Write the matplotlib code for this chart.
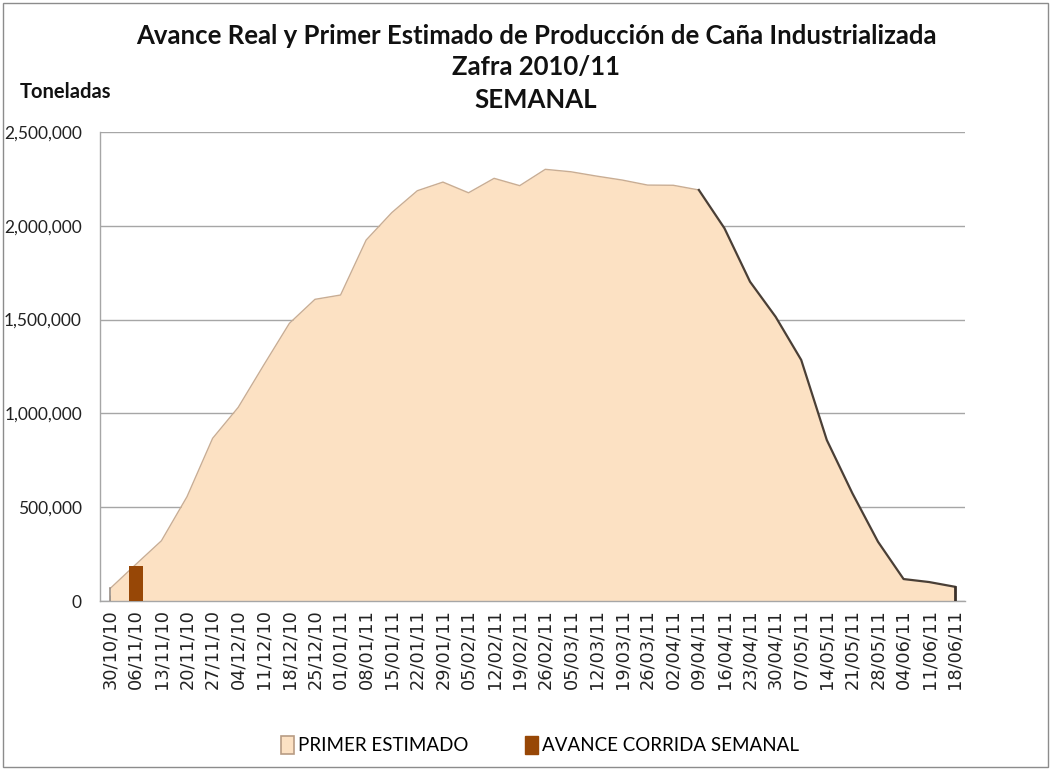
import numpy as np
import matplotlib
matplotlib.use("Agg")
import matplotlib.pyplot as plt
from matplotlib.patches import Rectangle, Patch
from matplotlib.ticker import FuncFormatter

fechas = ["30/10/10", "06/11/10", "13/11/10", "20/11/10", "27/11/10", "04/12/10",
          "11/12/10", "18/12/10", "25/12/10", "01/01/11", "08/01/11", "15/01/11",
          "22/01/11", "29/01/11", "05/02/11", "12/02/11", "19/02/11", "26/02/11",
          "05/03/11", "12/03/11", "19/03/11", "26/03/11", "02/04/11", "09/04/11",
          "16/04/11", "23/04/11", "30/04/11", "07/05/11", "14/05/11", "21/05/11",
          "28/05/11", "04/06/11", "11/06/11", "18/06/11"]

primer_estimado = [67000, 195000, 321000, 556000, 867000, 1032000,
                   1258000, 1480000, 1608000, 1631000, 1924000, 2070000,
                   2187000, 2233000, 2176000, 2253000, 2214000, 2301000,
                   2288000, 2265000, 2244000, 2217000, 2216000, 2191000,
                   1987000, 1702000, 1515000, 1285000, 858000, 574000,
                   316000, 117000, 101000, 76000]

avance_semanal = [0, 185000] + [0] * 32

y_ticks = [0, 500000, 1000000, 1500000, 2000000, 2500000]

fill_color = "#FCE1C3"
bar_color = "#974706"

fig = plt.figure(figsize=(10.52, 7.71), dpi=100)
ax = fig.add_axes([100 / 1052, 170 / 771, 865 / 1052, 469 / 771])

x = np.arange(len(fechas))
y = np.array(primer_estimado)

ax.fill_between(x, 0, y, color=fill_color, zorder=2, linewidth=0)
# light edge on the rising part, dark shadow edge on the falling part
ax.plot(x[:24], y[:24], color="#C9AD93", lw=1.0, zorder=3)
ax.plot(x[23:], y[23:], color="#4A3F36", lw=1.6, zorder=3)
ax.plot([x[0], x[0]], [0, y[0]], color="#9A8F86", lw=1.2, zorder=3)
ax.plot([x[-1], x[-1]], [0, y[-1]], color="#3A302A", lw=2.0, zorder=3)

ax.bar(x, avance_semanal, width=0.55, color=bar_color, zorder=4)

ax.set_xlim(-0.4, 33.4)
ax.set_ylim(0, 2500000)
ax.set_yticks(y_ticks)
ax.yaxis.set_major_formatter(FuncFormatter(lambda v, p: f"{int(v):,}"))
ax.grid(axis="y", color="#A6A6A6", lw=1.0, zorder=1)
ax.set_axisbelow(True)

ax.set_xticks(x)
ax.set_xticklabels(fechas, rotation=90, fontsize=12.8, family="DejaVu Sans", color="#222222")
ax.set_xticks(np.arange(0, 33.01, 0.5), minor=True)
ax.tick_params(axis="x", which="both", direction="in", length=4, color="#A6A6A6", pad=6)
ax.tick_params(axis="y", length=0, pad=13, labelsize=12.5, labelcolor="#222222")
for lbl in ax.get_yticklabels():
    lbl.set_family("Lato")

for s in ["top", "right"]:
    ax.spines[s].set_visible(False)
for s in ["left", "bottom"]:
    ax.spines[s].set_color("#A6A6A6")
    ax.spines[s].set_linewidth(1.0)

# Titles
fs_title = 18.5
fig.text(536 / 1052, 1 - 36 / 771, "Avance Real y Primer Estimado de Producción de Caña Industrializada",
         ha="center", va="center", fontsize=fs_title, fontweight="bold", family="Lato", color="#111111")
fig.text(536 / 1052, 1 - 67 / 771, "Zafra 2010/11", ha="center", va="center",
         fontsize=fs_title, fontweight="bold", family="Lato", color="#111111")
fig.text(536 / 1052, 1 - 100 / 771, "SEMANAL", ha="center", va="center",
         fontsize=fs_title, fontweight="bold", family="Lato", color="#111111")
fig.text(20 / 1052, 1 - 92 / 771, "Toneladas", ha="left", va="center",
         fontsize=14.5, fontweight="bold", family="Lato", color="#111111")

handles = [Patch(facecolor=fill_color, edgecolor="#B89C84", linewidth=1.2),
           Patch(facecolor=bar_color, edgecolor=bar_color)]
fig.legend(handles, ["PRIMER ESTIMADO", "AVANCE CORRIDA SEMANAL"],
           loc="center", bbox_to_anchor=(540 / 1052, 1 - 745 / 771), ncol=2,
           frameon=False, prop={"family": "Lato", "size": 13.5},
           handlelength=0.7, handleheight=1.1, handletextpad=0.2, columnspacing=3.0)

fig.patches.append(Rectangle((3 / 1052, 4 / 771), 1045 / 1052, 764 / 771,
                             transform=fig.transFigure, fill=False,
                             edgecolor="#8C8C8C", lw=1.0))

fig.savefig("out.png", dpi=100)
